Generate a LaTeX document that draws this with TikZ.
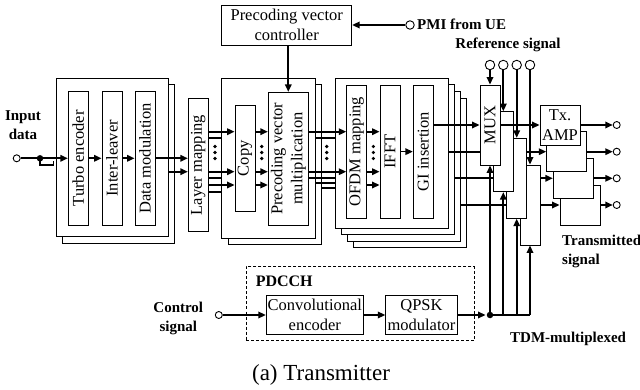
\documentclass[tikz,border=0pt]{standalone}
\usepackage{fontspec}
\setmainfont{Liberation Serif}
\usetikzlibrary{arrows.meta,fit}
\pgfdeclarelayer{front}
\pgfsetlayers{main,front}
\newcommand\mkbx[4][]{%
  \node[box,fit={#3}] (#2) {};
  \node[txt,#1] (#2t) at (#2.center) {#4};}
\begin{document}
\begin{tikzpicture}[x=1pt,y=-1pt,
  box/.style={draw,line width=0.9pt,fill=white,inner sep=0pt},
  txt/.style={inner sep=0pt,align=center,font=\fontsize{16.5}{20}\selectfont},
  lab/.style={inner sep=0pt,font=\bfseries\fontsize{15}{19}\selectfont},
  sig/.style={line width=1.7pt},
  arr/.style={sig,-{Triangle[length=7.5pt,width=6.5pt]}},
  term/.style={circle,draw,line width=0.9pt,fill=white,inner sep=0pt,minimum size=7pt},
  termL/.style={term,minimum size=9.5pt},
  blob/.style={circle,fill,inner sep=0pt,minimum size=3.6pt},
  jdot/.style={circle,fill,inner sep=0pt,minimum size=6.5pt},
]
\useasboundingbox (0,0) rectangle (640,390);

% ---------- stack 1 ----------
\node[box,fit={(62.5,84.8) (174.8,243.2)}] (s1b) {};
\node[box,fit={(56,78.3) (168.3,236.7)}] (s1f) {};
\mkbx[rotate=90]{turbo}{(68.3,91.7) (88.3,225)}{Turbo encoder}
\mkbx[rotate=90]{inter}{(102,91.7) (122,225)}{Inter-leaver}
\mkbx[rotate=90]{dmod}{(135,91.7) (155,225)}{Data modulation}
\mkbx[rotate=90]{layer}{(188.3,98.3) (208.3,231.7)}{Layer mapping}

% ---------- stack 2 ----------
\node[box,fit={(228.2,84.8) (321.5,244.8)}] (s2b) {};
\node[box,fit={(221.7,78.3) (315,238.3)}] (s2f) {};
\mkbx[rotate=90]{copy}{(235,105) (255,211.7)}{Copy}
\mkbx[rotate=90]{pmul}{(268.3,92.3) (308.3,225)}{Precoding vector\\multiplication}
\mkbx{ctrl}{(221.7,5) (351.7,45)}{Precoding vector\\controller}

% ---------- stack 3 ----------
\node[box,fit={(353.6,98.1) (466.9,247.8)}] (s3c) {};
\node[box,fit={(347.4,91.5) (460.7,241.2)}] (s3b) {};
\node[box,fit={(341.2,84.9) (454.5,234.6)}] (s3a) {};
\node[box,fit={(335,78.3) (448.3,228)}] (s3f) {};
\mkbx[rotate=90]{ofdm}{(346.7,85) (366.7,218.3)}{OFDM mapping}
\mkbx[rotate=90]{ifft}{(380,85) (400,218.3)}{IFFT}
\mkbx[rotate=90]{gi}{(413.3,85) (433.3,218.3)}{GI insertion}

% ---------- MUX and AMP (front layer) ----------
\begin{pgfonlayer}{front}
\node[box,fit={(520,165) (540,245)}] (m3) {};
\node[box,fit={(506.7,138.3) (526.7,218.3)}] (m2) {};
\node[box,fit={(493.3,111.7) (513.3,191.7)}] (m1) {};
\mkbx[rotate=90]{m0}{(480,85) (500,165)}{MUX}
\node[box,fit={(560,185) (600,225)}] (a3) {};
\node[box,fit={(553.3,158.3) (593.3,198.3)}] (a2) {};
\node[box,fit={(546.7,131.7) (586.7,171.7)}] (a1) {};
\mkbx{a0}{(540,105) (580,145)}{Tx.\\AMP}
\draw[arr] (m0.east) -- (a0.west);
\end{pgfonlayer}

% ---------- input ----------
\node[term] (din) at (16.7,158.3) {};
\node[jdot] (jin) at (40,158.3) {};
\draw[sig] (din) -- (jin);
\draw[arr] (jin) -- (turbo.west |- jin);
\draw[sig] (jin.center) -- ++(0,7) -- ++(13.5,0) -- ++(0,-4.5);
\draw[arr] (turbo.east |- jin) -- (inter.west |- jin);
\draw[arr] (inter.east |- jin) -- (dmod.west |- jin);
\draw[arr] (dmod.east |- jin) -- (layer.west |- jin);
\draw[arr] (s1f.east |- 0,171.7) -- (layer.west |- 0,171.7);

% ---------- layer mapping -> copy -> precoding ----------
\foreach \y in {131.7,171.7,185} \draw[arr] (layer.east |- 0,\y) -- (copy.west |- 0,\y);
\foreach \y in {138.3,178.3,191.7} \draw[sig] (layer.east |- 0,\y) -- (s2f.west |- 0,\y);
\foreach \y in {131.7,171.7,185} \draw[arr] (copy.east |- 0,\y) -- (pmul.west |- 0,\y);

% ---------- precoding -> OFDM ----------
\foreach \y in {131.7,171.7} \draw[arr] (pmul.east |- 0,\y) -- (ofdm.west |- 0,\y);
\draw[sig] (s2f.east |- 0,138.3) -- (s3f.west |- 0,138.3);
\draw[sig] (pmul.east |- 0,178.3) -- (s3f.west |- 0,178.3);
\draw[sig] (s2f.east |- 0,183.3) -- (s3f.west |- 0,183.3);
\draw[sig] (s2b.east |- 0,188.3) -- (s3f.west |- 0,188.3);
\foreach \y in {131.7,171.7,185} \draw[arr] (ofdm.east |- 0,\y) -- (ifft.west |- 0,\y);
\draw[arr] (ifft.east) -- (gi.west);

% ---------- dots ----------
\foreach \x/\n in {215/da,261.7/db,326.7/dc,373.3/dd}
  \foreach \y/\m in {146.5/1,152.5/2,158.5/3}
    \node[blob] (\n\m) at (\x,\y) {};

% ---------- controller ----------
\node[termL,minimum size=8.5pt] (pmi) at (410,25) {};
\draw[arr] (pmi) -- (ctrl.east |- pmi);
\draw[arr] (pmul.north |- ctrl.south) -- (pmul.north);

% ---------- to MUX / AMP ----------
\draw[arr] (gi.east |- m0.west) -- (m0.west);
\draw[arr] (s3f.east |- a1.west) -- (a1.west);
\draw[arr] (s3a.east |- a2.west) -- (a2.west);
\draw[arr] (s3b.east |- a3.west) -- (a3.west);

% ---------- reference signals ----------
\node[termL] (r0) at (490,65) {};
\node[termL] (r1) at (503.3,65) {};
\node[termL] (r2) at (516.7,65) {};
\node[termL] (r3) at (530,65) {};
\draw[arr] (r0) -- (m0.north);
\draw[arr] (r1) -- (m1.north);
\draw[arr] (r2) -- (m2.north);
\draw[arr] (r3) -- (m3.north);

% ---------- outputs ----------
\node[term] (o0) at (616.7,125) {};
\node[term] (o1) at (616.7,151.7) {};
\node[term] (o2) at (616.7,178.3) {};
\node[term] (o3) at (616.7,205) {};
\begin{pgfonlayer}{front}
\draw[arr] (a0.east) -- (o0);
\draw[arr] (a1.east) -- (o1);
\draw[arr] (a2.east) -- (o2);
\draw[arr] (a3.east) -- (o3);
\end{pgfonlayer}

% ---------- PDCCH ----------
\node[draw,line width=1pt,dash pattern=on 3pt off 2pt,inner sep=0pt,fit={(246.3,266.5) (474.3,340.5)}] (pdcch) {};
\mkbx{conv}{(266.3,295.8) (363.4,334)}{Convolutional\\encoder}
\mkbx{qpsk}{(385.8,295.8) (457.1,334)}{QPSK\\modulator}
\node[term] (cin) at (218.8,315) {};
\node[jdot] (jt) at (490,315) {};
\draw[arr] (cin) -- (conv.west |- cin);
\draw[arr] (conv.east |- cin) -- (qpsk.west |- cin);
\draw[arr,shorten >=1pt] (qpsk.east |- jt) -- (jt.west);
\draw[sig] (jt.center) -- (m3.south |- jt);
\draw[arr] (jt.center) -- (m0.south);
\draw[arr] (m1.south |- jt) -- (m1.south);
\draw[arr] (m2.south |- jt) -- (m2.south);
\draw[arr] (m3.south |- jt) -- (m3.south);

% ---------- labels ----------
\node[lab,align=center,anchor=north] (inlab) at (23,110.5) {Input\\data};
\node[lab,align=center,anchor=north] (clab) at (178.3,301.5) {Control\\signal};
\node[lab,anchor=base west] (pmilab) at (417,29.5) {PMI from UE};
\node[lab,anchor=base] (reflab) at (508,48.5) {Reference signal};
\node[lab,align=left,anchor=north west] (txlab) at (562,234.5) {Transmitted\\signal};
\node[lab,anchor=base west] (tdm) at (510,342) {TDM-multiplexed};
\node[lab,font=\bfseries\fontsize{16}{19}\selectfont,anchor=base west] (pd) at (255.6,286.5) {PDCCH};
\node[inner sep=0pt,font=\fontsize{23}{26}\selectfont,anchor=base] (cap) at (321,380) {(a) Transmitter};
\end{tikzpicture}
\end{document}
